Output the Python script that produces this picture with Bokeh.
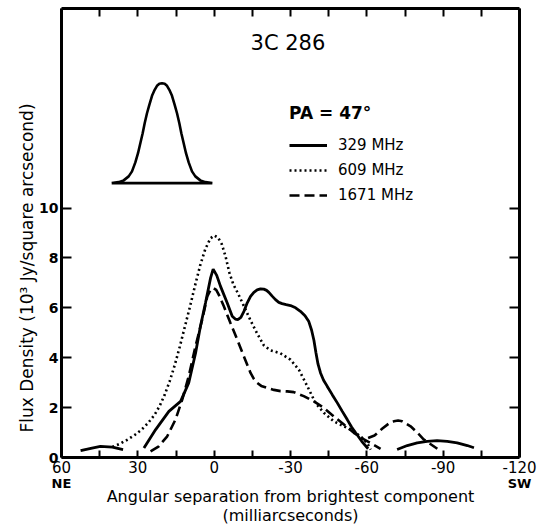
import math
from bokeh.plotting import figure
from bokeh.models import (Range1d, LinearAxis, FixedTicker, Label, Legend, LegendItem, Title)
from bokeh.embed import file_html
from bokeh.resources import INLINE

nan = float("nan")

# ---- data ----
# x: angular separation (mas), y: flux density (10^3 Jy / sq arcsec)
mhz329_x = [52.5, 48.0, 44.7, 40.0, 35.8, nan,
            27.6, 23.0, 17.8, 13.2, 10.0, 7.3, 5.4, 3.4, 1.4, 0.4, -1.0,
            -2.5, -5.1, -7.1, -8.3, -9.3, -10.5, -11.7, -13.0, -14.3, -15.6, -16.9,
            -18.2, -19.5, -20.6, -21.5, -22.8, -24.1, -25.4, -26.7, -28.3, -30.0,
            -32.0, -33.9, -35.7, -37.2, -38.3, -39.2, -40.0, -40.8, -41.8, -43.0,
            -44.4, -46.4, -48.4, -50.3, -52.3, -54.0, -55.6, -58.0, -60.5, nan,
            -71.9, -75.9, -79.8, -83.7, -87.6, -91.6, -95.5, -99.5, -102.1]
mhz329_y = [0.28, 0.38, 0.45, 0.42, 0.32, nan,
            0.38, 1.12, 1.85, 2.25, 2.99, 4.19, 5.26, 6.20, 7.20, 7.55, 7.30,
            6.86, 6.20, 5.66, 5.55, 5.53, 5.62, 5.86, 6.20, 6.46, 6.62, 6.72,
            6.76, 6.75, 6.70, 6.62, 6.47, 6.33, 6.22, 6.17, 6.13, 6.09,
            6.00, 5.86, 5.68, 5.45, 5.10, 4.70, 4.20, 3.75, 3.39, 3.10,
            2.86, 2.52, 2.19, 1.86, 1.52, 1.22, 0.99, 0.65, 0.35, nan,
            0.32, 0.48, 0.59, 0.65, 0.68, 0.65, 0.59, 0.48, 0.39]

mhz609_x = [40.0, 37.0, 34.0, 31.0, 28.5, 26.0, 23.5, 21.5, 19.5, 17.5, 15.5,
            13.5, 11.5, 9.5, 7.5, 5.5, 3.5, 1.5, 0.0, -1.5, -3.0, -4.5, -6.0,
            -7.5, -9.5, -12.0, -14.5, -17.0, -19.5, -22.0, -26.0, -30.0, -33.3,
            -36.6, -39.8, -43.1, -47.0, -51.0, -54.9, -58.0, -60.0, -61.5]
mhz609_y = [0.42, 0.55, 0.72, 0.92, 1.12, 1.38, 1.70, 2.05, 2.50, 3.05, 3.70,
            4.45, 5.25, 6.05, 6.90, 7.70, 8.35, 8.78, 8.90, 8.82, 8.55, 8.05, 7.40,
            6.95, 6.55, 6.00, 5.45, 4.95, 4.50, 4.30, 4.18, 3.92, 3.52,
            2.86, 2.19, 1.79, 1.45, 1.25, 1.05, 0.80, 0.60, 0.32]

mhz1671_x = [25.0, 21.75, 18.45, 15.2, 12.55, 10.0, 7.33, 4.7, 2.7, 1.4, 0.4,
             -0.8, -1.8, -3.8, -6.4, -9.05, -11.65, -14.3, -15.6, -16.9, -18.5, -20.8,
             -23.5, -26.1, -28.7, -31.3, -35.2, -39.2, -43.1, -47.0, -51.0, -54.9,
             -58.5, -62.0, -65.4, nan,
             -60.5, -63.0, -66.0, -68.5, -70.6, -72.3, -73.9, -77.2, -79.8, -82.4, -87.7]
mhz1671_y = [0.25, 0.45, 0.85, 1.52, 2.32, 3.26, 4.46, 5.53, 6.46, 6.72, 6.80,
             6.72, 6.53, 6.06, 5.39, 4.73, 4.06, 3.39, 3.15, 2.99, 2.87, 2.79,
             2.71, 2.66, 2.65, 2.62, 2.46, 2.25, 1.99, 1.65, 1.32, 0.99,
             0.75, 0.55, 0.35, nan,
             0.78, 0.88, 1.15, 1.35, 1.45, 1.48, 1.45, 1.25, 1.00, 0.72, 0.35]

# restoring beam profile drawn in the upper-left corner
beam_x = [40.28, 37.53, 35.57, 33.6, 32.29, 30.98, 29.93, 29.02, 28.1, 27.31, 26.4,
          25.48, 24.43, 23.38, 22.47, 21.55, 20.5, 19.45, 18.53, 17.62, 16.57, 15.52,
          14.6, 13.69, 12.9, 11.98, 11.07, 10.02, 8.71, 7.4, 5.43, 3.47, 0.72, 40.28]
beam_y = [11.0, 11.04, 11.11, 11.27, 11.47, 11.83, 12.2, 12.6, 13.0, 13.4, 13.8,
          14.14, 14.5, 14.74, 14.9, 14.98, 15.0, 14.98, 14.9, 14.74, 14.5, 14.14,
          13.8, 13.4, 13.0, 12.6, 12.2, 11.83, 11.47, 11.27, 11.11, 11.04, 11.0, 11.0]

series_labels = ["329 MHz", "609 MHz", "1671 MHz"]
x_ticks = [60, 30, 0, -30, -60, -90, -120]
x_tick_labels = ["60", "30", "0", "-30", "-60", "-90", "-120"]
x_minor = [45, 15, -15, -45, -75, -105]
end_ticks = [60, -120]
end_labels = ["NE", "SW"]
y_ticks = [0, 2, 4, 6, 8, 10]
y_tick_labels = ["0", "2", "4", "6", "8", "10"]

FONT = "DejaVu Sans"

p = figure(width=541, height=527, x_range=Range1d(60, -120), y_range=Range1d(0, 18),
           output_backend="svg", toolbar_location=None,
           min_border_left=61, min_border_right=22, min_border_top=8, min_border_bottom=69)
p.outline_line_color = None
p.xgrid.grid_line_color = None
p.ygrid.grid_line_color = None
p.background_fill_color = "white"
p.border_fill_color = "white"

r329 = p.line(mhz329_x, mhz329_y, line_color="black", line_width=2.8)
r609 = p.line(mhz609_x, mhz609_y, line_color="black", line_width=2.6, line_dash="2 3")
r1671 = p.line(mhz1671_x, mhz1671_y, line_color="black", line_width=2.6, line_dash="10 5")
p.line(beam_x, beam_y, line_color="black", line_width=2.6)

def style_axis(ax, ticker, tick_len, show_labels, overrides=None, bold=False, size="15px"):
    ax.ticker = ticker
    ax.axis_line_width = 3
    ax.axis_line_color = "black"
    ax.major_tick_in = tick_len
    ax.major_tick_out = 0
    ax.minor_tick_in = tick_len
    ax.minor_tick_out = 0
    ax.major_tick_line_width = 2
    ax.minor_tick_line_width = 2
    ax.major_tick_line_color = "black"
    ax.minor_tick_line_color = "black"
    if show_labels:
        ax.major_label_overrides = overrides
        ax.major_label_text_font = FONT
        ax.major_label_text_font_size = size
        ax.major_label_text_color = "black"
        ax.major_label_standoff = 3
        if bold:
            ax.major_label_text_font_style = "bold"
    else:
        ax.major_label_text_font_size = "0px"
        ax.major_label_standoff = 0
        ax.major_label_text_alpha = 0

xt = FixedTicker(ticks=x_ticks, minor_ticks=x_minor)
yt = FixedTicker(ticks=y_ticks)
style_axis(p.xaxis[0], xt, 7, True, {t: l for t, l in zip(x_ticks, x_tick_labels)})
style_axis(p.yaxis[0], yt, 10, True, {t: l for t, l in zip(y_ticks, y_tick_labels)}, bold=True, size="14px")

top = LinearAxis()
style_axis(top, FixedTicker(ticks=x_ticks, minor_ticks=x_minor), 8, False)
p.add_layout(top, "above")
right = LinearAxis()
style_axis(right, FixedTicker(ticks=y_ticks[1:]), 10, False)
p.add_layout(right, "right")

# second bottom axis: NE / SW direction labels and the axis title
dir_axis = LinearAxis(ticker=FixedTicker(ticks=end_ticks),
                      major_label_overrides={t: l for t, l in zip(end_ticks, end_labels)},
                      axis_line_color=None, major_tick_line_color=None, minor_tick_line_color=None,
                      major_label_text_font=FONT, major_label_text_font_size="13px",
                      major_label_text_font_style="bold", major_label_text_color="black",
                      major_label_standoff=-6,
                      axis_label="Angular separation from brightest component\n(milliarcseconds)",
                      axis_label_text_font=FONT, axis_label_text_font_size="16px",
                      axis_label_text_font_style="normal", axis_label_text_color="black",
                      axis_label_text_line_height=1.0,
                      axis_label_standoff=-7)
p.add_layout(dir_axis, "below")

ytitle = Title(text="Flux Density  (10\u00b3 Jy/square arcsecond)", align="left", offset=25,
               text_font=FONT, text_font_size="17px", text_font_style="normal",
               text_color="black", standoff=0)
p.add_layout(ytitle, "left")

p.add_layout(Label(x=-29.0, y=16.6, text="3C 286", text_font=FONT, text_font_size="21px",
                   text_color="black", text_align="center", text_baseline="middle"))

legend = Legend(items=[LegendItem(label=series_labels[0], renderers=[r329]),
                       LegendItem(label=series_labels[1], renderers=[r609]),
                       LegendItem(label=series_labels[2], renderers=[r1671])],
                location=(228, 252), title="PA = 47\u00b0",
                title_text_font=FONT, title_text_font_size="17px", title_text_font_style="bold",
                title_text_color="black",
                label_text_font=FONT, label_text_font_size="15px", label_text_color="black",
                glyph_width=38, glyph_height=20, label_height=20, spacing=5,
                label_standoff=11, padding=0, margin=0, title_standoff=12,
                border_line_color=None, background_fill_alpha=0)
p.add_layout(legend)

open("out.html", "w").write(file_html(p, INLINE))
